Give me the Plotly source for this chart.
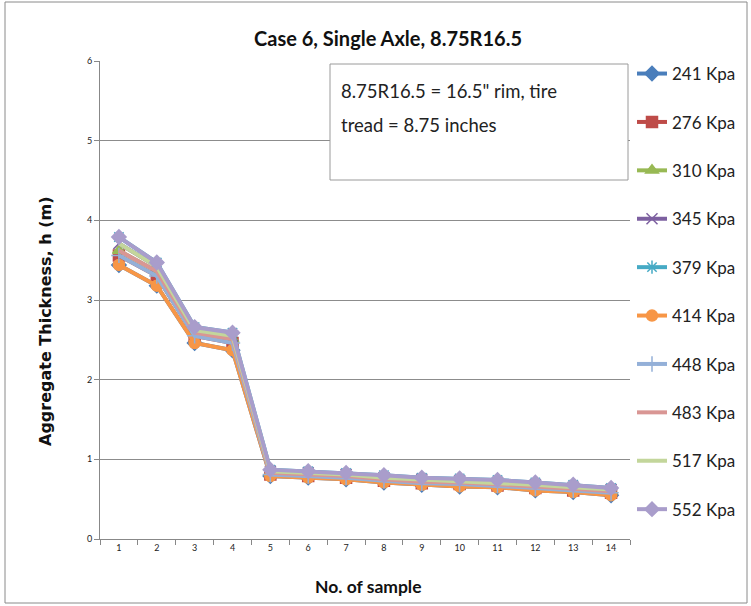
import plotly.graph_objects as go

samples = [str(i) for i in range(1, 15)]
series_names = ["241 Kpa", "276 Kpa", "310 Kpa", "345 Kpa", "379 Kpa",
                "414 Kpa", "448 Kpa", "483 Kpa", "517 Kpa", "552 Kpa"]

kpa241 = [3.44, 3.18, 2.46, 2.37, 0.79, 0.77, 0.75, 0.71, 0.68, 0.66, 0.65, 0.61, 0.59, 0.55]
kpa276 = [3.56, 3.30, 2.55, 2.46, 0.81, 0.79, 0.77, 0.73, 0.70, 0.69, 0.67, 0.64, 0.61, 0.58]
kpa310 = [3.62, 3.36, 2.59, 2.51, 0.83, 0.81, 0.79, 0.75, 0.72, 0.71, 0.69, 0.66, 0.63, 0.60]
kpa345 = [3.71, 3.42, 2.62, 2.55, 0.85, 0.83, 0.81, 0.77, 0.75, 0.73, 0.71, 0.68, 0.65, 0.62]
kpa379 = [3.79, 3.47, 2.66, 2.59, 0.87, 0.85, 0.83, 0.80, 0.77, 0.76, 0.74, 0.71, 0.68, 0.64]
kpa414 = [3.44, 3.18, 2.46, 2.37, 0.79, 0.77, 0.75, 0.71, 0.68, 0.66, 0.65, 0.61, 0.59, 0.55]
kpa448 = [3.56, 3.30, 2.55, 2.46, 0.81, 0.79, 0.77, 0.73, 0.70, 0.69, 0.67, 0.64, 0.61, 0.58]
kpa483 = [3.62, 3.36, 2.59, 2.51, 0.83, 0.81, 0.79, 0.75, 0.72, 0.71, 0.69, 0.66, 0.63, 0.60]
kpa517 = [3.71, 3.42, 2.62, 2.55, 0.85, 0.83, 0.81, 0.77, 0.75, 0.73, 0.71, 0.68, 0.65, 0.62]
kpa552 = [3.79, 3.47, 2.66, 2.59, 0.87, 0.85, 0.83, 0.80, 0.77, 0.76, 0.74, 0.71, 0.68, 0.64]

values = [kpa241, kpa276, kpa310, kpa345, kpa379, kpa414, kpa448, kpa483, kpa517, kpa552]
colors = ["#4A7EBB", "#BE4B48", "#98B954", "#7D60A0", "#46AAC5",
          "#F79646", "#94B0D8", "#D99694", "#C3D69B", "#A99DCB"]
symbols = ["diamond", "square", "triangle-up", "x-thin-open", "asterisk-open",
           "circle", "cross-thin-open", None, None, "diamond"]

fig = go.Figure()
for name, vals, col, sym in zip(series_names, values, colors, symbols):
    if sym is None:
        fig.add_trace(go.Scatter(x=samples, y=vals, name=name, mode="lines",
                                 line=dict(color=col, width=4), legendgroup=name))
    else:
        fig.add_trace(go.Scatter(x=samples, y=vals, name=name, mode="lines+markers",
                                 line=dict(color=col, width=4),
                                 marker=dict(symbol=sym, size=11, color=col,
                                             line=dict(color=col, width=1.5)),
                                 legendgroup=name))

L, R, T, B = 100, 630, 61, 539
W, H = 751, 606
def px(x):
    return (x - L) / (R - L)
def py(y):
    return (B - y) / (B - T)

fig.update_layout(
    width=W, height=H,
    margin=dict(l=L, r=W - R, t=T, b=H - B, autoexpand=False),
    paper_bgcolor="white", plot_bgcolor="white",
    showlegend=True,
    legend=dict(x=px(632), y=py(56), xanchor="left", yanchor="top",
                font=dict(family="Lato", size=17, color="#222"),
                tracegroupgap=23.3, maxheight=590, bgcolor="rgba(0,0,0,0)"),
    font=dict(family="Lato", color="#222"),
)
fig.update_xaxes(type="category", range=[-0.5, 13.5], tickson="boundaries", showgrid=False,
                 showline=True, linecolor="#888", linewidth=1,
                 ticks="outside", ticklen=5, tickcolor="#888",
                 tickfont=dict(family="Lato", size=9, color="#222"))
fig.update_yaxes(range=[0, 6], dtick=1, showgrid=True, gridcolor="#8c8c8c", gridwidth=1,
                 showline=True, linecolor="#888", linewidth=1,
                 ticks="outside", ticklen=5, tickcolor="#888",
                 tickfont=dict(family="Lato", size=9, color="#222"), zeroline=False)

# outer chart border
fig.add_shape(type="rect", xref="paper", yref="paper",
              x0=px(5), x1=px(747), y0=py(603), y1=py(2),
              line=dict(color="#8a8a8a", width=1), layer="below")
# note box
fig.add_shape(type="rect", xref="paper", yref="paper",
              x0=px(330), x1=px(628), y0=py(180), y1=py(64),
              line=dict(color="#9a9a9a", width=1), fillcolor="white", layer="above")
fig.add_annotation(xref="paper", yref="paper", x=px(339), y=py(91), xanchor="left", yanchor="middle",
                   text='8.75R16.5 = 16.5" rim, tire', showarrow=False,
                   font=dict(family="Lato", size=18.5, color="#222"))
fig.add_annotation(xref="paper", yref="paper", x=px(339), y=py(125), xanchor="left", yanchor="middle",
                   text="tread = 8.75 inches", showarrow=False,
                   font=dict(family="Lato", size=18.5, color="#222"))
# title
fig.add_annotation(xref="paper", yref="paper", x=px(388), y=py(38), xanchor="center", yanchor="middle",
                   text="<b>Case 6, Single Axle, 8.75R16.5</b>", showarrow=False,
                   font=dict(family="Lato", size=20, color="#111"))
# axis titles
fig.add_annotation(xref="paper", yref="paper", x=px(368), y=py(586), xanchor="center", yanchor="middle",
                   text="<b>No. of sample</b>", showarrow=False,
                   font=dict(family="Lato", size=17.5, color="#111"))
fig.add_annotation(xref="paper", yref="paper", x=px(45), y=py(322), xanchor="center", yanchor="middle",
                   text="<b>Aggregate Thickness, h (m)</b>", showarrow=False, textangle=-90,
                   font=dict(family="DejaVu Sans", size=16, color="#111"))

fig.write_html("out.html")
